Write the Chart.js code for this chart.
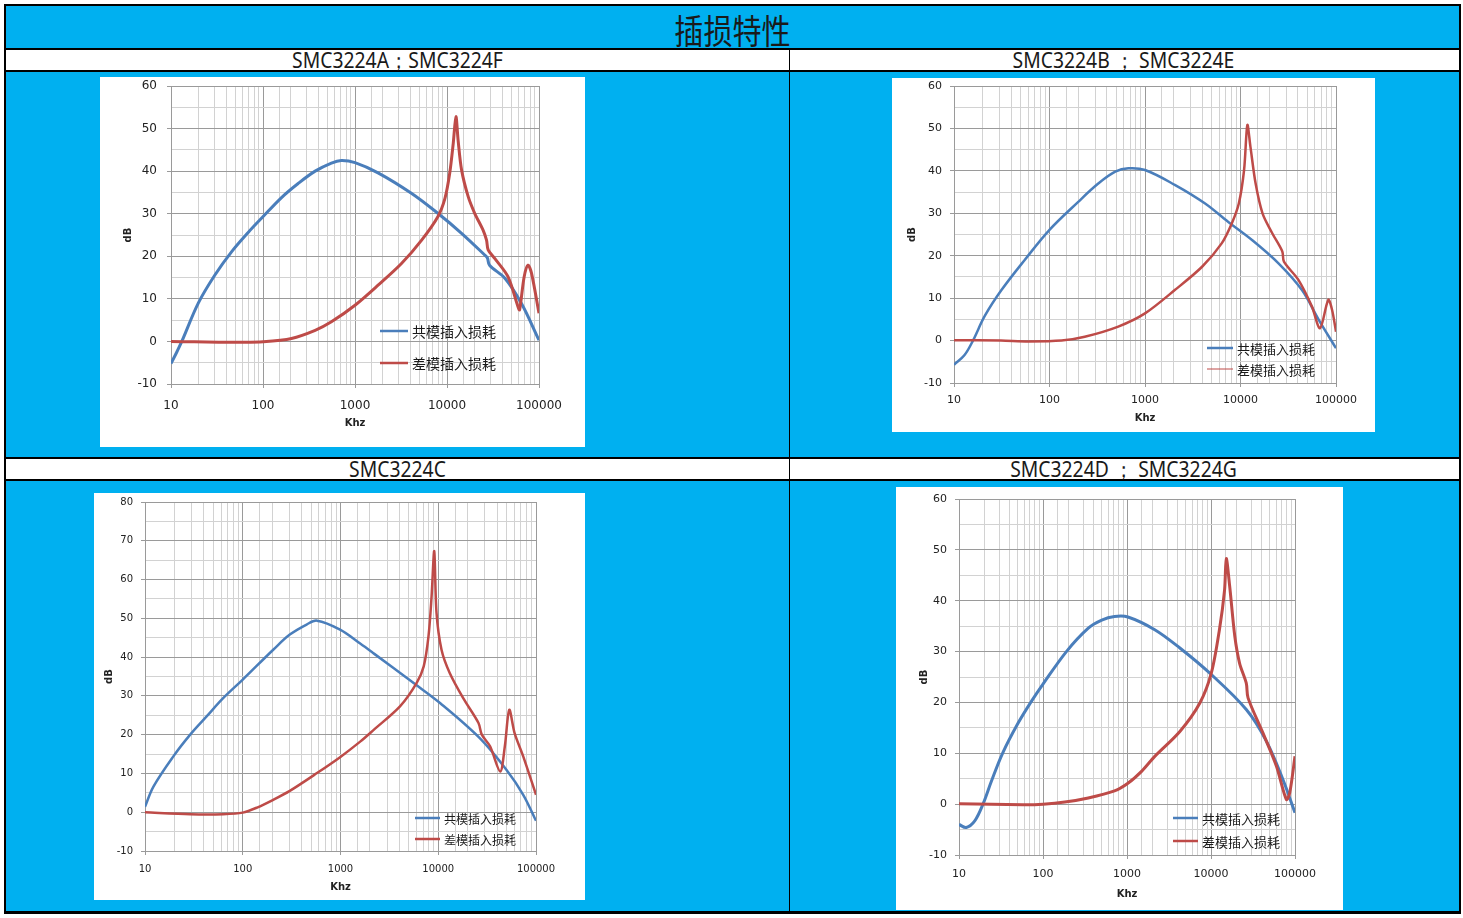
<!DOCTYPE html>
<html>
<head>
<meta charset="utf-8">
<script src="https://cdn.jsdelivr.net/npm/chart.js@4.4.1/dist/chart.umd.min.js"></script>
<style>
body{margin:0;background:#fff;width:1463px;height:918px;position:relative;overflow:hidden;font-family:"Noto Sans",sans-serif}
.sheet{position:absolute;left:4px;top:4px;width:1457px;height:910px;background:#00b0f0;border:2px solid #000;border-bottom-width:3px;box-sizing:border-box}
.title{position:absolute;left:0;right:0;top:0;height:42px;line-height:46px;text-align:center;font-family:"Noto Sans CJK SC",sans-serif;font-size:30px;color:#1a1a1a;transform:scale(0.97,1.12)}
.row{position:absolute;left:0;right:0;height:24px;background:#fff;border-top:2px solid #000;border-bottom:2px solid #000;box-sizing:border-box}
.row span{position:absolute;top:0;line-height:20px;font-size:21px;color:#1a1a1a;text-align:center;transform:scaleX(0.92)}
.divider{position:absolute;left:783px;top:42px;bottom:0;width:1px;background:#000}
.panel{position:absolute;background:#fff}
.panel canvas{display:block}
</style>
</head>
<body>
<div class="sheet">
  <div class="title">插损特性</div>
  <div class="row" style="top:42px"><span style="left:0;width:783px">SMC3224A；SMC3224F</span><span style="left:784px;width:667px">SMC3224B ； SMC3224E</span></div>
  <div class="row" style="top:451px"><span style="left:0;width:783px">SMC3224C</span><span style="left:784px;width:667px">SMC3224D ； SMC3224G</span></div>
  <div class="divider"></div>
</div>
<div class="panel" style="left:100px;top:77px"><canvas id="chartA" width="485" height="370"></canvas></div>
<div class="panel" style="left:892px;top:78px"><canvas id="chartB" width="483" height="354"></canvas></div>
<div class="panel" style="left:94px;top:493px"><canvas id="chartC" width="491" height="407"></canvas></div>
<div class="panel" style="left:896px;top:487px"><canvas id="chartD" width="447" height="423"></canvas></div>
<script>
// axis ticks / names
const decades = [10, 100, 1000, 10000, 100000];
const seriesNames = ['共模插入损耗', '差模插入损耗'];
const yRangeA = [-10, 60];
const yRangeB = [-10, 60];
const yRangeC = [-10, 80];
const yRangeD = [-10, 60];

// SMC3224A / F
const cmFreqA = [10, 11.5, 13.1, 19.8, 30, 45.7, 69, 98, 159, 241, 369, 554, 710, 1000, 1780, 4100, 7950, 14400, 25700, 27500, 29000, 42800, 64500, 100000];
const cmLossA = [-5.2, -2.6, 0, 9, 15.6, 21.1, 25.6, 29.1, 33.8, 37.1, 40, 41.9, 42.5, 42, 39.6, 34.8, 30.1, 25.4, 20.3, 19.6, 17.9, 14.8, 8.9, 0.3];
const dmFreqA = [10, 18, 60, 100, 204, 369, 554, 1000, 1780, 3200, 5300, 7950, 9500, 10700, 11700, 12500, 13200, 14400, 17000, 20000, 24600, 26900, 28000, 33000, 46000, 59000, 61500, 69000, 76000, 83000, 100000];
const dmLossA = [0, -0.1, -0.2, -0.1, 0.7, 2.6, 4.6, 8.5, 13.2, 18.3, 23.8, 29.3, 33.6, 39.5, 46.6, 52.8, 47.3, 40.3, 34, 30.1, 26.2, 23.8, 21.5, 19.5, 15.2, 8.2, 7.4, 15.2, 17.9, 16, 6.6];

// SMC3224B / E
const cmFreqB = [10, 12.9, 15.8, 21, 31.4, 55, 100, 200, 324, 488, 670, 1000, 2050, 4260, 7400, 13200, 25000, 44000, 66000, 100000];
const cmLossB = [-5.7, -3.4, 0, 5.8, 11.9, 19, 26.1, 32.7, 37, 39.8, 40.6, 40.2, 36.7, 32.3, 28, 23.7, 18.2, 11.9, 4.9, -1.8];
const dmFreqB = [10, 31, 60, 134, 234, 525, 1000, 2050, 3960, 6350, 8100, 9600, 10900, 11800, 12700, 14400, 17000, 21500, 27400, 28500, 40400, 56000, 68000, 83000, 91000, 100000];
const dmLossB = [0.1, 0, -0.2, 0, 0.9, 3.3, 6.4, 11.9, 17.4, 22.9, 27.6, 32.3, 40.2, 50.8, 45.7, 37, 30, 25.3, 21, 18.6, 14.3, 8, 2.9, 9.6, 7.2, 2.1];

// SMC3224C
const cmFreqC = [10, 12.2, 19.5, 29, 42.7, 63, 100, 205, 303, 450, 575, 990, 1590, 2200, 5600, 10500, 26600, 50000, 74000, 100000];
const cmLossC = [1.4, 6.6, 14.4, 20, 24.7, 29.4, 34.2, 41.9, 45.8, 48.4, 49.4, 47.1, 43.5, 40.9, 33.3, 28.1, 19.1, 10.9, 4.5, -2.2];
const dmFreqC = [10, 29, 63, 100, 140, 205, 303, 575, 990, 1590, 2200, 4060, 6000, 7100, 7950, 8550, 9100, 9600, 10800, 13100, 18000, 25800, 27900, 33900, 43000, 48000, 53300, 60400, 74000, 100000];
const dmLossC = [0, -0.5, -0.5, -0.1, 1.2, 3.2, 5.5, 10.1, 14.2, 18.2, 21.3, 27.3, 33.3, 37.6, 45.4, 55.7, 67.3, 51.4, 41.9, 35.9, 29.4, 23, 20, 17, 10.5, 17, 26.4, 20.4, 14.4, 4.5];

// SMC3224D / G
const cmFreqD = [10, 12.2, 15.4, 19.3, 24.3, 33, 50, 72.7, 100, 190, 346, 500, 710, 1025, 2140, 4260, 9600, 26300, 45600, 72000, 100000];
const cmLossD = [-4, -4.6, -3.3, 0, 4.5, 10, 15.8, 20.2, 23.6, 30, 34.6, 36.2, 36.9, 36.8, 34.3, 30.7, 25.8, 18.6, 12.4, 4.8, -1.7];
const dmFreqD = [10, 58, 100, 182, 346, 710, 1025, 1500, 2140, 4260, 7370, 10100, 12600, 14500, 15200, 16700, 19200, 21900, 26300, 27600, 41500, 60000, 79000, 86500, 100000];
const dmLossD = [0.1, -0.1, 0, 0.4, 1.2, 2.6, 4.1, 6.5, 9.4, 14.3, 19.9, 25.8, 34.3, 42.1, 48.3, 42.8, 33, 27.7, 23.8, 20.9, 14, 7.5, 0.9, 2.2, 9.4];

const blue = '#4a7ebb';
const red = '#be4b48';
const gridMajor = '#9a9a9a';
const gridMinor = '#d2d2d2';

Chart.defaults.font.family = '"DejaVu Sans", sans-serif';
Chart.defaults.color = '#222';

function pts(xs, ys) {
    return xs.map(function(x, i) { return {x: x, y: ys[i]}; });
}

// legend drawn inside the plot like the excel one
const insideLegend = {
    id: 'insideLegend',
    afterDraw: function(chart, args, opts) {
        let ctx = chart.ctx;
        ctx.save();
        ctx.font = opts.size + 'px "Noto Sans CJK SC", sans-serif';
        ctx.textBaseline = 'middle';
        ctx.fillStyle = '#1a1a1a';
        chart.data.datasets.forEach(function(ds, i) {
            let y = opts.y + i * opts.gap;
            ctx.strokeStyle = ds.borderColor;
            ctx.lineWidth = (opts.widths || [2.5, 2.5])[i];
            ctx.beginPath();
            ctx.moveTo(opts.x, y);
            ctx.lineTo(opts.x + opts.len, y);
            ctx.stroke();
            ctx.fillText(ds.label, opts.x + opts.len + 4, y + 1);
        });
        ctx.restore();
    }
};

function drawPanel(id, cm, dm, yRange, s) {
    let ctx = document.getElementById(id);
    new Chart(ctx, {
        type: 'line',
        data: {
            datasets: [{
                label: seriesNames[0],
                data: cm,
                borderColor: blue,
                borderWidth: s.lw,
                pointRadius: 0,
                tension: 0.35,
                order: 2
            }, {
                label: seriesNames[1],
                data: dm,
                borderColor: red,
                borderWidth: s.lw,
                pointRadius: 0,
                tension: 0.3,
                order: 1
            }]
        },
        options: {
            responsive: false,
            animation: false,
            layout: {padding: {left: 0, top: s.top, right: s.right, bottom: 0}},
            plugins: {
                legend: {display: false},
                tooltip: {enabled: false},
                insideLegend: s.legend
            },
            scales: {
                x: {
                    type: 'logarithmic',
                    min: 10,
                    max: 100000,
                    afterFit: function(scale) {
                        scale.height = s.bottom;
                        scale.paddingLeft = 0;
                        scale.paddingRight = 0;
                    },
                    border: {color: gridMajor},
                    grid: {
                        color: function(c) { return decades.includes(c.tick.value) ? gridMajor : gridMinor; },
                        tickColor: function(c) { return decades.includes(c.tick.value) ? gridMajor : 'rgba(0,0,0,0)'; },
                        tickLength: 4
                    },
                    ticks: {
                        autoSkip: false,
                        maxRotation: 0,
                        padding: s.xPad,
                        font: {size: s.tick},
                        callback: function(v) { return decades.includes(v) ? String(v) : ''; }
                    },
                    title: {display: true, text: 'Khz', font: {size: 10, weight: 'bold'}, padding: {top: 0, bottom: s.khz}}
                },
                y: {
                    min: yRange[0],
                    max: yRange[1],
                    afterFit: function(scale) {
                        scale.width = s.left;
                        scale.paddingTop = 0;
                        scale.paddingBottom = 0;
                    },
                    border: {color: gridMajor},
                    grid: {
                        color: function(c) { return c.tick.value % 10 === 0 ? gridMajor : gridMinor; },
                        tickColor: function(c) { return c.tick.value % 10 === 0 ? gridMajor : 'rgba(0,0,0,0)'; },
                        tickLength: 4
                    },
                    ticks: {
                        stepSize: 5,
                        padding: s.yPad,
                        font: {size: s.tick},
                        callback: function(v) { return v % 10 === 0 ? String(v) : ''; }
                    },
                    title: {display: true, text: 'dB', font: {size: 10, weight: 'bold'}, padding: {top: s.db, bottom: 0}}
                }
            }
        },
        plugins: [insideLegend]
    });
}

drawPanel('chartA', pts(cmFreqA, cmLossA), pts(dmFreqA, dmLossA), yRangeA, {
    lw: 3, left: 71, top: 9, right: 46, bottom: 63, tick: 12, xPad: 11, yPad: 10, khz: 18, db: 22,
    legend: {x: 280, y: 254, gap: 32, len: 28, size: 14, widths: [2.5, 2.5]}
});
drawPanel('chartB', pts(cmFreqB, cmLossB), pts(dmFreqB, dmLossB), yRangeB, {
    lw: 2.5, left: 62, top: 8, right: 39, bottom: 49, tick: 11, xPad: 7, yPad: 8, khz: 8, db: 14,
    legend: {x: 315, y: 270, gap: 21, len: 26, size: 13, widths: [2.5, 1]}
});
drawPanel('chartC', pts(cmFreqC, cmLossC), pts(dmFreqC, dmLossC), yRangeC, {
    lw: 2.5, left: 51, top: 9, right: 49, bottom: 49, tick: 10, xPad: 8, yPad: 8, khz: 7, db: 9,
    legend: {x: 321, y: 325, gap: 21, len: 25, size: 12, widths: [2.5, 2.5]}
});
drawPanel('chartD', pts(cmFreqD, cmLossD), pts(dmFreqD, dmLossD), yRangeD, {
    lw: 3, left: 63, top: 12, right: 48, bottom: 55, tick: 11, xPad: 9, yPad: 8, khz: 10, db: 22,
    legend: {x: 277, y: 331, gap: 23, len: 25, size: 13, widths: [2.5, 2.5]}
});
</script>
</body>
</html>
